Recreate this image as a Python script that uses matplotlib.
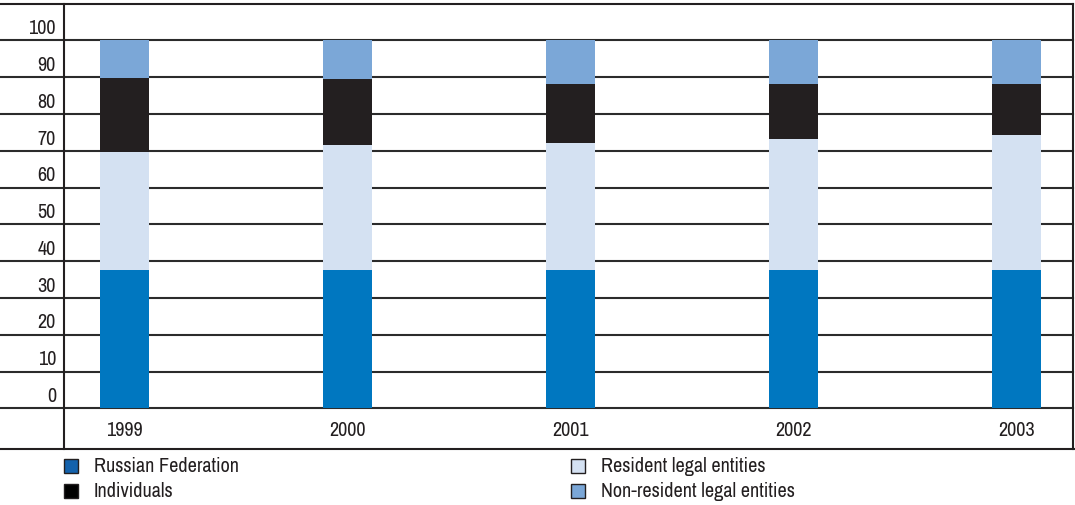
import matplotlib
matplotlib.use('Agg')
import matplotlib.pyplot as plt
import matplotlib.patches as mpatches
from matplotlib import font_manager
from matplotlib.lines import Line2D
from matplotlib.transforms import blended_transform_factory
import numpy as np

# pick a narrow face if one is installed
narrow = [f for f in font_manager.fontManager.ttflist
          if f.stretch in ('condensed', 'semi-condensed', 'extra-condensed')
          or 'Narrow' in f.name or 'Condensed' in f.name]
names = sorted(set(f.name for f in narrow))
fam = names[0] if names else 'DejaVu Sans'
stretch = 'condensed' if names else 'normal'
plt.rcParams['font.family'] = [fam, 'DejaVu Sans']
plt.rcParams['font.stretch'] = stretch

years = ['1999', '2000', '2001', '2002', '2003']
russian_fed = [37.7, 37.7, 37.7, 37.7, 37.7]
resident = [32.0, 33.9, 34.4, 35.5, 36.6]
individuals = [20.0, 18.0, 16.1, 15.0, 13.9]
non_resident = [10.3, 10.4, 11.8, 11.8, 11.8]
y_ticks = [0, 10, 20, 30, 40, 50, 60, 70, 80, 90, 100]

W, H = 1075, 506
fig = plt.figure(figsize=(W / 100, H / 100), dpi=100)
fig.patch.set_facecolor('white')

# plot area in pixel terms
x0, x1 = 64, 1073
y_top, y_zero, y_bot = 4.7, 409.3, 450
ax = fig.add_axes([x0 / W, 1 - y_zero / H, (x1 - x0) / W, (y_zero - y_top) / H])
ax.set_xlim(-0.27, 4.255)
ax.set_ylim(0, 110)
ax.axis('off')

c_rf, c_res, c_ind, c_non = '#0077C0', '#D4E1F2', '#231F20', '#7BA7D7'
x = np.arange(len(years))
bw = 0.22
bottom = np.zeros(len(years))
for vals, col in [(russian_fed, c_rf), (resident, c_res), (individuals, c_ind), (non_resident, c_non)]:
    ax.bar(x, vals, bw, bottom=bottom, color=col, linewidth=0, zorder=3)
    bottom += np.array(vals)

# gridlines spanning the full width, labels in the left column
tr = blended_transform_factory(fig.transFigure, ax.transData)
for v in y_ticks:
    ax.add_line(Line2D([0, x1 / W], [v, v], transform=tr, color='#2b2b2b',
                       lw=1.5, clip_on=False, zorder=1))
    ax.text(56 / W, v + 0.9, str(v), transform=tr, ha='right', va='bottom',
            fontsize=14.5, color='#231F20')

# frame lines
def fline(xs, ys, lw=1.5):
    fig.add_artist(Line2D([p / W for p in xs], [1 - p / H for p in ys],
                          color='#231F20', lw=lw))

fline([0, x1], [y_top, y_top])
fline([x0, x0], [y_top, y_bot])
fline([x1, x1], [y_top, y_bot])
fline([0, W], [y_bot, y_bot])

# year labels in the row below
trx = blended_transform_factory(ax.transData, fig.transFigure)
for xi, yr in zip(x, years):
    ax.text(xi, 1 - 431 / H, yr, transform=trx, ha='center', va='center',
            fontsize=14.5, color='#231F20')

# legend
legend_items = [
    ('Russian Federation', '#1462AC', 64, 467),
    ('Individuals', '#000000', 64, 492),
    ('Resident legal entities', c_res, 571, 467),
    ('Non-resident legal entities', c_non, 571, 492),
]
for label, col, lx, ly in legend_items:
    fig.add_artist(mpatches.Rectangle((lx / W, 1 - (ly + 7) / H), 14 / W, 14 / H,
                                      facecolor=col, edgecolor='#231F20', lw=1.0,
                                      transform=fig.transFigure))
    fig.text((lx + 30) / W, 1 - ly / H, label, ha='left', va='center',
             fontsize=14.5, color='#231F20')

fig.savefig('out.png', dpi=100, facecolor='white')
